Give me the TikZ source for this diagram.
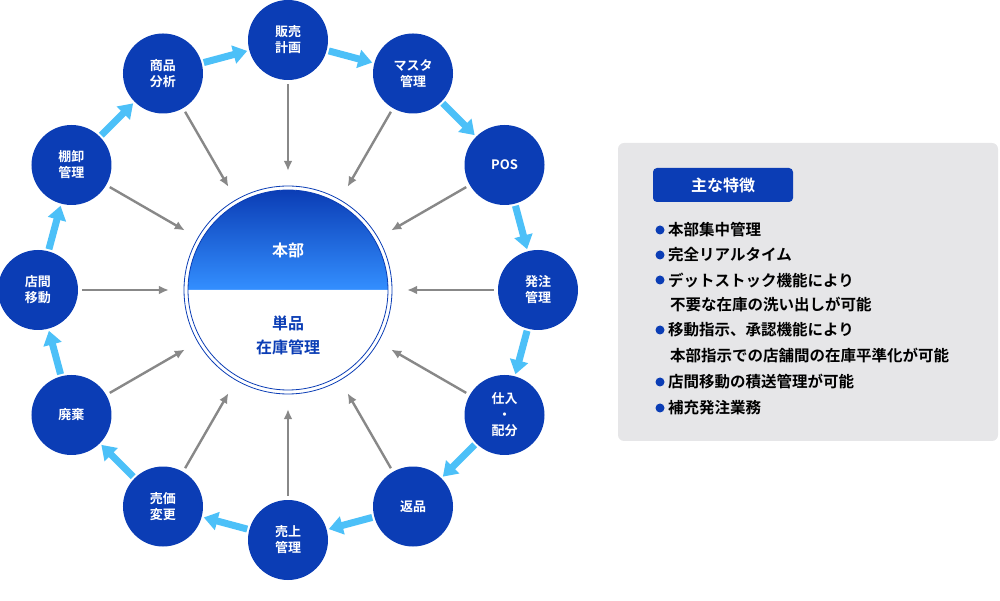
\documentclass[tikz,border=0pt]{standalone}
\usepackage{fontspec}
\setmainfont{Noto Sans CJK JP}[BoldFont={Noto Sans CJK JP Bold}]
\usetikzlibrary{arrows.meta}
\definecolor{deepblue}{HTML}{0B3DB5}
\definecolor{skyblue}{HTML}{4CC0F8}
\definecolor{panelgray}{HTML}{E6E6E8}
\definecolor{arrowgray}{HTML}{888888}
\tikzset{
  func/.style={circle, fill=deepblue, text=white, minimum size=80pt, inner sep=0pt, align=center, font=\bfseries\fontsize{13}{16}\selectfont},
  flow/.style={-{Triangle[length=14pt,width=18pt]}, skyblue, line width=7pt, shorten <=2pt, shorten >=2pt},
  feed/.style={-{Latex[length=10pt,width=9pt]}, arrowgray, line width=2.4pt, shorten <=4pt, shorten >=14pt},
  item/.style={anchor=west, font=\bfseries\fontsize{15.5}{18}\selectfont, inner sep=0pt}
}
\begin{document}
\begin{tikzpicture}[x=1pt,y=1pt]
            \useasboundingbox (-288,290) rectangle (712,-311);

            %center circle
            \node[circle, minimum size=210pt, inner sep=0pt] (hub) at (0,0) {};
            \draw[deepblue, line width=0.8pt] (0,0) circle (104);
            \shade[top color=deepblue, bottom color=blue!55!cyan!80!white] (-100,0) arc (180:0:100) -- cycle;
            \fill[white] (-100,0) arc (180:360:100) -- cycle;
            \draw[deepblue, line width=0.8pt] (0,0) circle (100);
            \node[text=white, font=\bfseries\fontsize{16}{19}\selectfont] (hq) at (0,40) {本部};
            \node[text=deepblue, align=center, font=\bfseries\fontsize{16}{24}\selectfont] (stock) at (0,-45) {単品\\在庫管理};

            \node[func] (plan) at (90:250) {販売\\計画};
            \node[func] (master) at (60:250) {マスタ\\管理};
            \node[func] (pos) at (30:250) {POS};
            \node[func] (order) at (0:250) {発注\\管理};
            \node[func] (alloc) at (-30:250) {仕入\\・\\配分};
            \node[func] (ret) at (-60:250) {返品};
            \node[func] (sales) at (-90:250) {売上\\管理};
            \node[func] (price) at (-120:250) {売価\\変更};
            \node[func] (waste) at (-150:250) {廃棄};
            \node[func] (move) at (180:250) {店間\\移動};
            \node[func] (count) at (150:250) {棚卸\\管理};
            \node[func] (anal) at (120:250) {商品\\分析};

            %cycle arrows
            \draw[flow] (plan) -- (master);
            \draw[flow] (master) -- (pos);
            \draw[flow] (pos) -- (order);
            \draw[flow] (order) -- (alloc);
            \draw[flow] (alloc) -- (ret);
            \draw[flow] (ret) -- (sales);
            \draw[flow] (sales) -- (price);
            \draw[flow] (price) -- (waste);
            \draw[flow] (waste) -- (move);
            \draw[flow] (move) -- (count);
            \draw[flow] (count) -- (anal);
            \draw[flow] (anal) -- (plan);

            %arrows into the center
            \draw[feed] (plan) -- (hub);
            \draw[feed] (master) -- (hub);
            \draw[feed] (pos) -- (hub);
            \draw[feed] (order) -- (hub);
            \draw[feed] (alloc) -- (hub);
            \draw[feed] (ret) -- (hub);
            \draw[feed] (sales) -- (hub);
            \draw[feed] (price) -- (hub);
            \draw[feed] (waste) -- (hub);
            \draw[feed] (move) -- (hub);
            \draw[feed] (count) -- (hub);
            \draw[feed] (anal) -- (hub);

            %feature panel
            \node[fill=panelgray, rounded corners=6pt, minimum width=380pt, minimum height=298pt, inner sep=0pt] (panel) at (520,-2) {};
            \node[fill=deepblue, rounded corners=4pt, minimum width=140pt, minimum height=34pt, text=white, font=\bfseries\fontsize{16}{18}\selectfont] (title) at (435,105) {主な特徴};

            \node[item] (f1) at (380,60) {本部集中管理};
            \node[item] (f2) at (380,35) {完全リアルタイム};
            \node[item] (f3) at (380,10) {デットストック機能により};
            \node[item] (f3b) at (382,-15) {不要な在庫の洗い出しが可能};
            \node[item] (f4) at (380,-40) {移動指示、承認機能により};
            \node[item] (f4b) at (382,-65) {本部指示での店舗間の在庫平準化が可能};
            \node[item] (f5) at (380,-92) {店間移動の積送管理が可能};
            \node[item] (f6) at (380,-118) {補充発注業務};
            \fill[deepblue] (372,60) circle (4.5) (372,35) circle (4.5) (372,10) circle (4.5) (372,-40) circle (4.5) (372,-92) circle (4.5) (372,-118) circle (4.5);

        \end{tikzpicture}
\end{document}
